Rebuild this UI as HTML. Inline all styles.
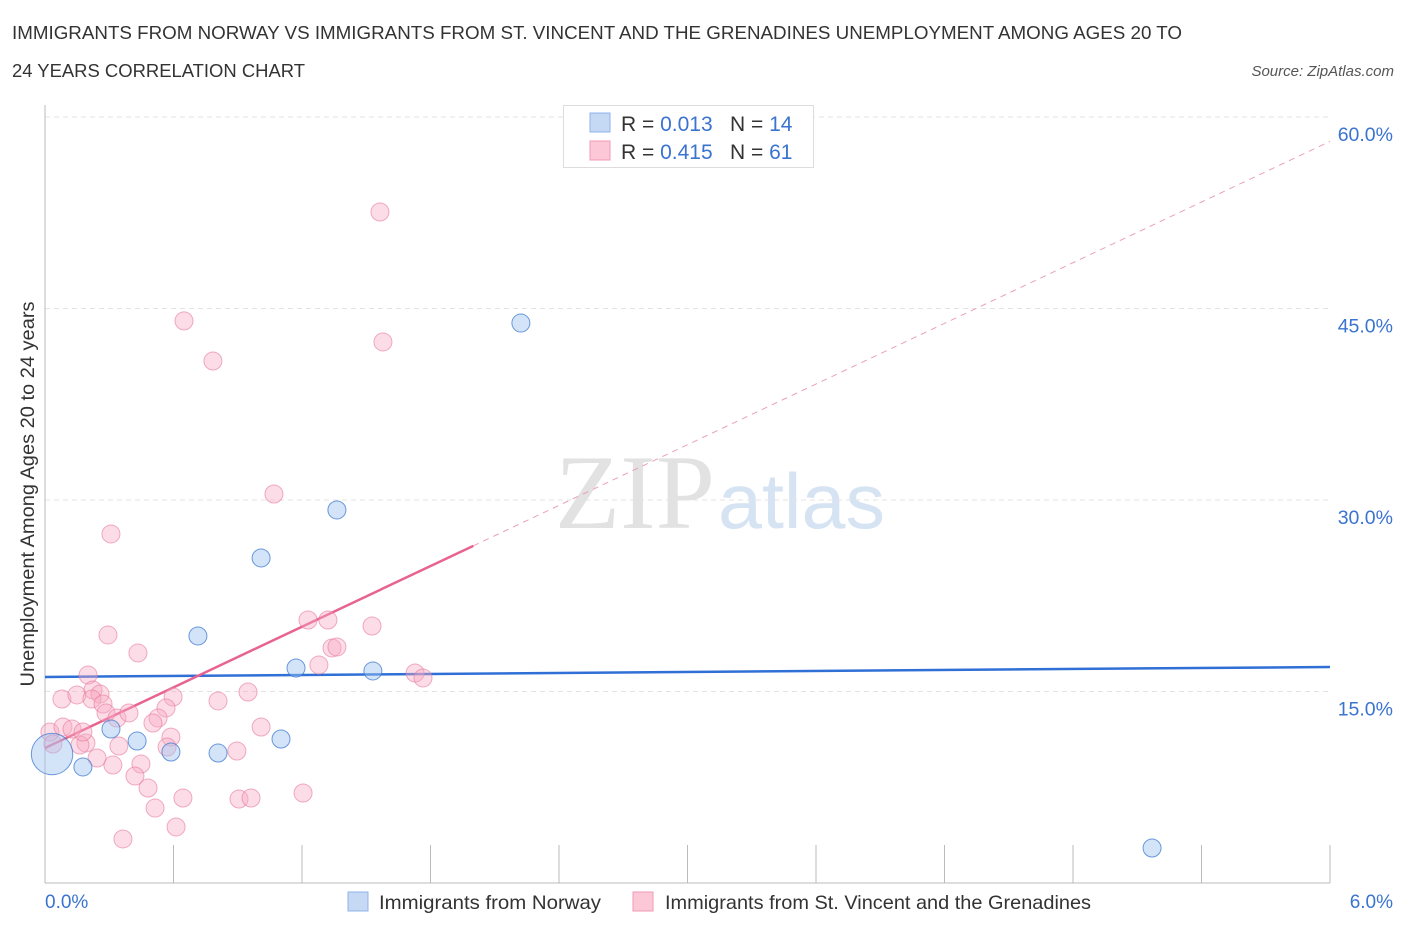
<!DOCTYPE html>
<html><head><meta charset="utf-8"><style>
body{margin:0;background:#fff;font-family:"Liberation Sans",sans-serif;}
svg text{font-family:"Liberation Sans",sans-serif;}
</style></head><body>
<svg id="chart" width="1406" height="930" viewBox="0 0 1406 930" xmlns="http://www.w3.org/2000/svg">
<text x="12" y="39" font-size="18" fill="#333" textLength="1170" lengthAdjust="spacingAndGlyphs">IMMIGRANTS FROM NORWAY VS IMMIGRANTS FROM ST. VINCENT AND THE GRENADINES UNEMPLOYMENT AMONG AGES 20 TO</text>
<text x="12" y="77" font-size="18" fill="#333" textLength="293" lengthAdjust="spacingAndGlyphs">24 YEARS CORRELATION CHART</text>
<text x="1394" y="76" font-size="15" font-style="italic" fill="#555" text-anchor="end">Source: ZipAtlas.com</text>
<g>
<text x="555" y="528" font-size="106" fill="#e2e2e2" textLength="160" lengthAdjust="spacingAndGlyphs" style="font-family:'Liberation Serif',serif">ZIP</text>
<text x="718" y="528" font-size="78" fill="#d5e3f3" textLength="167" lengthAdjust="spacingAndGlyphs">atlas</text>
</g>
<g id="grid"></g>
<g id="axes"></g>
<g id="lines"></g>
<g id="points"></g>
<text x="34" y="494" font-size="19" fill="#333" text-anchor="middle" textLength="385" lengthAdjust="spacingAndGlyphs" transform="rotate(-90 34 494)">Unemployment Among Ages 20 to 24 years</text>
<text x="45" y="908" font-size="19" fill="#3a74d0">0.0%</text>
<text x="1393" y="908" font-size="19" fill="#3a74d0" text-anchor="end">6.0%</text>
<g>
<rect x="563.5" y="105.5" width="250" height="62" fill="#fff" stroke="#ddd"/>
<rect x="590" y="113" width="20" height="19" fill="#c5d9f5" stroke="#8fb3e8"/>
<rect x="590" y="141" width="20" height="19" fill="#fcc8d8" stroke="#f09ab5"/>
<text x="621" y="131" font-size="21" fill="#333">R = <tspan fill="#3a74d0">0.013</tspan></text>
<text x="730" y="131" font-size="21" fill="#333">N = <tspan fill="#3a74d0">14</tspan></text>
<text x="621" y="159" font-size="21" fill="#333">R = <tspan fill="#3a74d0">0.415</tspan></text>
<text x="730" y="159" font-size="21" fill="#333">N = <tspan fill="#3a74d0">61</tspan></text>
</g>
<g>
<rect x="348" y="892" width="20" height="19" fill="#c5d9f5" stroke="#8fb3e8"/>
<text x="379" y="909" font-size="19.5" fill="#333" textLength="222" lengthAdjust="spacingAndGlyphs">Immigrants from Norway</text>
<rect x="633" y="892" width="20" height="19" fill="#fcc8d8" stroke="#f09ab5"/>
<text x="665" y="909" font-size="19.5" fill="#333" textLength="426" lengthAdjust="spacingAndGlyphs">Immigrants from St. Vincent and the Grenadines</text>
</g>
</svg>
<script>
const yTicks=[15,30,45,60];
const yTickLabels=["15.0%","30.0%","45.0%","60.0%"];
const xTicks=[0,0.6,1.2,1.8,2.4,3.0,3.6,4.2,4.8,5.4,6.0];
const norwayX=[2.222,1.363,1.009,0.714,1.172,1.531,0.308,0.430,0.588,0.808,1.102,0.177,5.169,0.033];
const norwayY=[43.86,29.22,25.46,19.35,16.84,16.61,12.06,11.12,10.26,10.18,11.28,9.09,2.74,10.10];
const norwaySize=[1,1,1,1,1,1,1,1,1,1,1,1,1,2.3];
const vincentX=[1.564,0.649,0.784,1.578,1.069,0.308,0.294,0.434,0.201,0.079,0.149,0.224,0.257,0.219,0.271,0.285,0.336,0.392,0.598,0.565,0.528,0.504,0.588,0.570,0.345,0.191,0.163,0.023,0.084,0.126,0.177,0.037,0.243,0.317,0.448,0.420,0.481,0.514,0.644,0.612,0.364,0.808,0.948,1.009,0.896,0.906,0.962,1.205,1.228,1.321,1.527,1.279,1.340,1.363,1.728,1.765];
const vincentY=[52.56,44.03,40.89,42.38,30.47,27.34,19.43,18.02,16.29,14.41,14.73,15.12,14.80,14.41,14.02,13.32,12.92,13.32,14.57,13.71,12.92,12.53,11.43,10.65,10.73,10.97,10.81,11.83,12.22,12.06,11.83,10.89,9.79,9.24,9.32,8.38,7.44,5.87,6.66,4.39,3.45,14.26,14.96,12.22,10.34,6.58,6.66,7.05,20.60,20.60,20.13,17.08,18.41,18.49,16.45,16.06];
const norwayTrend=[16.14,0.13];
const vincentTrend=[10.57,7.92];
const vincentSolidEnd=2.0;

const X=v=>45+v/6*1285;
const Y=v=>883-v/60*766;
const NS="http://www.w3.org/2000/svg";
function mk(tag,attrs,parent){const e=document.createElementNS(NS,tag);for(const k in attrs)e.setAttribute(k,attrs[k]);document.getElementById(parent).appendChild(e);return e;}

yTicks.forEach((t,i)=>{
  const g=mk('line',{x1:45,x2:1330,y1:Y(t),y2:Y(t),stroke:'#e3e3e3','stroke-dasharray':'5,4'},'grid');
  
  
  const l=mk('text',{x:1393,y:Y(t)+24,'font-size':19.5,fill:'#3a74d0','text-anchor':'end'},'grid');
  l.textContent=yTickLabels[i];
  
  
});
const ya=mk('line',{x1:45,x2:45,y1:105,y2:883,stroke:'#bbb'},'axes');


const xa=mk('line',{x1:45,x2:1330,y1:883,y2:883,stroke:'#bbb'},'axes');


xTicks.forEach(t=>{
  const k=mk('line',{x1:X(t),x2:X(t),y1:845,y2:883,stroke:'#bbb'},'axes');
  
  
});

const bl=mk('line',{x1:X(0),x2:X(6),y1:Y(norwayTrend[0]),y2:Y(norwayTrend[0]+6*norwayTrend[1]),stroke:'#2f6fd6','stroke-width':2.5},'lines');


const ps=mk('line',{x1:X(0),x2:X(vincentSolidEnd),y1:Y(vincentTrend[0]),y2:Y(vincentTrend[0]+vincentSolidEnd*vincentTrend[1]),stroke:'#e8638f','stroke-width':2.5},'lines');


const pd=mk('line',{x1:X(vincentSolidEnd),x2:X(6),y1:Y(vincentTrend[0]+vincentSolidEnd*vincentTrend[1]),y2:Y(vincentTrend[0]+6*vincentTrend[1]),stroke:'#eaa0b8','stroke-width':1,'stroke-dasharray':'6,5'},'lines');



vincentX.forEach((x,i)=>{
  const c=mk('circle',{cx:X(x),cy:Y(vincentY[i]),r:9,fill:'rgba(248,170,195,0.4)',stroke:'rgba(232,120,155,0.6)','stroke-width':1},'points');
  
  
});
norwayX.forEach((x,i)=>{
  const c=mk('circle',{cx:X(x),cy:Y(norwayY[i]),r:9*norwaySize[i],fill:'rgba(160,195,240,0.45)',stroke:'rgba(60,120,210,0.75)','stroke-width':1},'points');
  
  
});
</script>
</body></html>
